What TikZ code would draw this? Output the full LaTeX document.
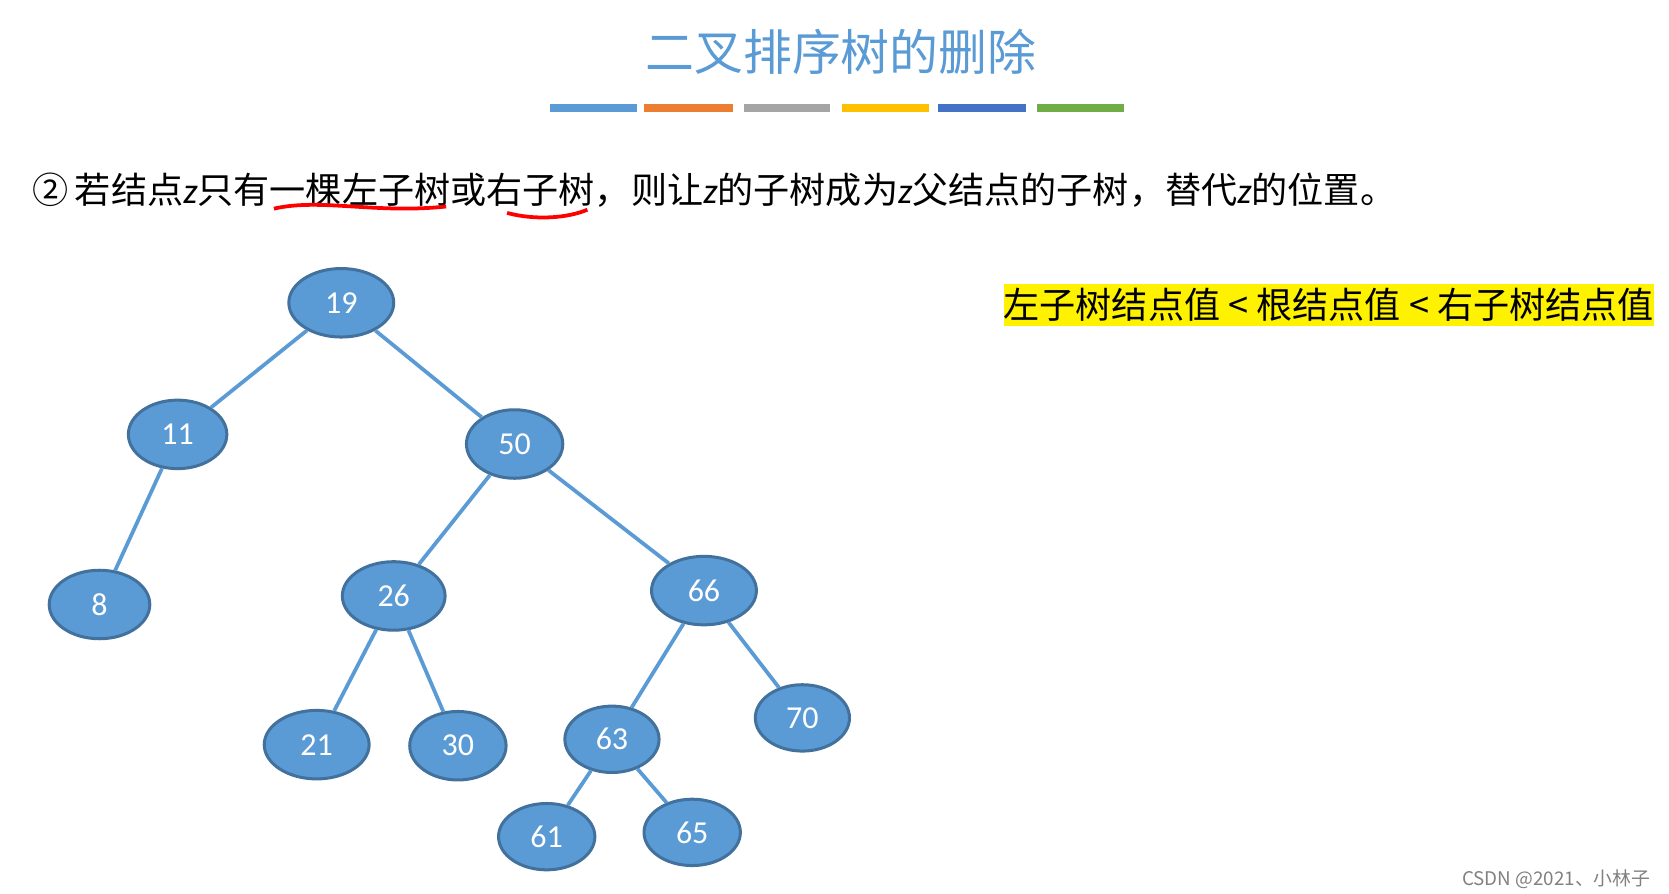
\documentclass[tikz,border=0pt]{standalone}
\usepackage{fontspec}
\setmainfont{Carlito}
\newfontfamily\cjk{Noto Sans CJK SC}
\usepackage{tikz}
\usetikzlibrary{shapes.geometric}
\definecolor{nodefill}{HTML}{5B9BD5}
\definecolor{nodeline}{HTML}{41719C}
\definecolor{titleblue}{HTML}{5B9BD5}
\tikzset{treenode/.style={draw=nodeline,fill=nodefill,ellipse,line width=0.8pt,text=white,font=\fontsize{8.5}{10}\selectfont},
treeedge/.style={draw=nodefill,line width=1pt}}
\newcommand{\zv}{{\fontspec{Carlito}\itshape z}}
\begin{document}
\begin{tikzpicture}[x=0.01cm,y=-0.01cm]
\useasboundingbox (0,0) rectangle (1560,835);
\node at (786,48) [text=titleblue,font=\cjk\fontsize{13}{15}\selectfont](title){二叉排序树的删除};
\fill[color={rgb,255:red,91;green,155;blue,213}] (514,97) rectangle (595,105);
\fill[color={rgb,255:red,237;green,125;blue,49}] (602,97) rectangle (685,105);
\fill[color={rgb,255:red,165;green,165;blue,165}] (695,97) rectangle (776,105);
\fill[color={rgb,255:red,255;green,192;blue,0}] (787,97) rectangle (868,105);
\fill[color={rgb,255:red,68;green,114;blue,196}] (877,97) rectangle (959,105);
\fill[color={rgb,255:red,112;green,173;blue,71}] (969,97) rectangle (1051,105);
\node at (30,178) [anchor=west,inner sep=0pt,font=\cjk\fontsize{9.6}{11}\selectfont](rule){②\,若结点\zv 只有一棵左子树或右子树，则让\zv 的子树成为\zv 父结点的子树，替代\zv 的位置。};
\draw[red,line width=1pt] (256,195) .. controls (300,185) and (350,200) .. (417,193);
\draw[red,line width=1pt] (474,199) .. controls (500,206) and (530,204) .. (549,196);
\node at (1242,285) [fill=yellow,minimum width=6.05cm,minimum height=0.4cm,inner sep=0pt,font=\cjk\fontsize{9.6}{11}\selectfont](hint){左子树结点值 < 根结点值 < 右子树结点值};
\node at (319,283) [treenode,minimum width=0.98cm,minimum height=0.64cm](n19){19};
\node at (166,406) [treenode,minimum width=0.92cm,minimum height=0.64cm](n11){11};
\node at (481,415) [treenode,minimum width=0.9cm,minimum height=0.64cm](n50){50};
\node at (93,565) [treenode,minimum width=0.94cm,minimum height=0.64cm](n8){8};
\node at (368,557) [treenode,minimum width=0.96cm,minimum height=0.64cm](n26){26};
\node at (658,552) [treenode,minimum width=0.98cm,minimum height=0.64cm](n66){66};
\node at (296,696) [treenode,minimum width=0.98cm,minimum height=0.64cm](n21){21};
\node at (428,697) [treenode,minimum width=0.9cm,minimum height=0.64cm](n30){30};
\node at (572,691) [treenode,minimum width=0.88cm,minimum height=0.62cm](n63){63};
\node at (750,671) [treenode,minimum width=0.88cm,minimum height=0.62cm](n70){70};
\node at (511,782) [treenode,minimum width=0.9cm,minimum height=0.62cm](n61){61};
\node at (647,778) [treenode,minimum width=0.9cm,minimum height=0.62cm](n65){65};
\draw[treeedge](n19) -- (n11);
\draw[treeedge](n19) -- (n50);
\draw[treeedge](n11) -- (n8);
\draw[treeedge](n50) -- (n26);
\draw[treeedge](n50) -- (n66);
\draw[treeedge](n26) -- (n21);
\draw[treeedge](n26) -- (n30);
\draw[treeedge](n66) -- (n63);
\draw[treeedge](n66) -- (n70);
\draw[treeedge](n63) -- (n61);
\draw[treeedge](n63) -- (n65);
\node at (1555,822) [anchor=east,text=gray,font=\cjk\fontsize{5}{6}\selectfont](mark){CSDN @2021、小林子};
\end{tikzpicture}
\end{document}
